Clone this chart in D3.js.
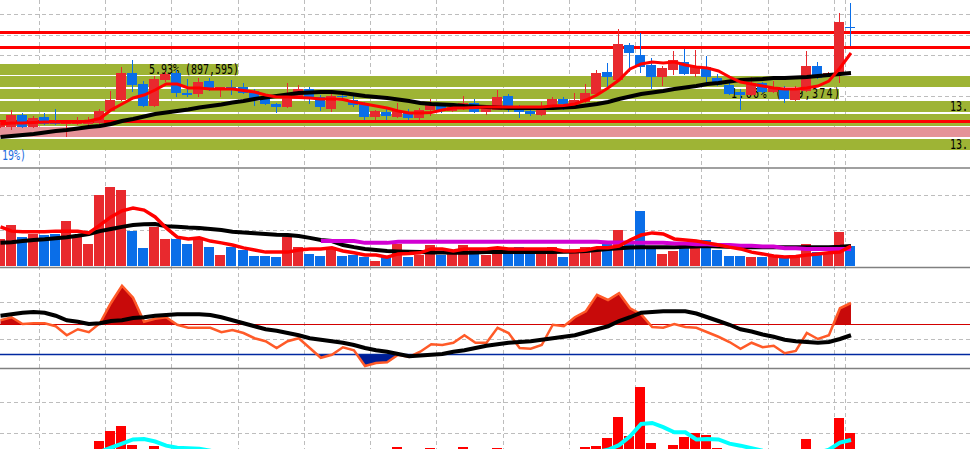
<!DOCTYPE html>
<html>
<head>
<meta charset="utf-8">
<script src="https://cdn.jsdelivr.net/npm/d3@7"></script>
<style>
  body { margin: 0; background: #fff; overflow: hidden; }
  svg { display: block; }
</style>
</head>
<body>
<script>
// ---- data ----
const opens = [13230,13230,13350,13230,13330,13280,13260,13260,13260,13270,
  13390,13500,13770,13660,13440,13700,13770,13570,13560,13690,
  13600,13630,13630,13590,13530,13460,13430,13530,13610,13530,
  13410,13540,13500,13460,13330,13380,13330,13380,13320,13400,
  13460,13390,13420,13470,13380,13400,13540,13440,13390,13350,
  13410,13510,13460,13480,13560,13780,13700,14050,13950,13850,
  13730,13800,13880,13760,13830,13720,13650,13580,13550,13670,
  13580,13620,13500,13590,13840,13760,13770,14230]
const highs = [13280,13400,13370,13340,13370,13410,13280,13330,13330,13410,
  13590,13830,13900,13690,13740,13780,13800,13710,13720,13720,
  13630,13700,13670,13610,13550,13470,13670,13650,13630,13550,
  13560,13590,13560,13480,13400,13420,13470,13410,13420,13510,
  13470,13440,13540,13510,13450,13600,13560,13450,13410,13480,
  13530,13530,13570,13660,13800,13870,14210,14070,14170,13920,
  13840,13990,14010,14000,13940,13760,13700,13610,13730,13680,
  13690,13640,13640,13990,13880,13780,14370,14470]
const lows = [13220,13200,13220,13220,13250,13250,13130,13250,13220,13220,
  13380,13490,13580,13430,13430,13680,13530,13530,13530,13590,
  13530,13550,13560,13440,13450,13370,13420,13520,13460,13390,
  13380,13490,13430,13300,13300,13300,13320,13300,13300,13340,
  13370,13380,13400,13370,13350,13400,13380,13320,13340,13340,
  13400,13400,13450,13470,13550,13630,13680,13780,13770,13610,
  13640,13750,13750,13730,13670,13640,13550,13400,13540,13570,
  13570,13470,13490,13580,13710,13750,13670,14040]
const closes = [13260,13350,13230,13320,13260,13260,13270,13280,13280,13390,
  13500,13770,13650,13440,13710,13760,13570,13550,13680,13610,
  13630,13600,13570,13500,13460,13430,13540,13610,13510,13430,
  13540,13530,13450,13330,13390,13340,13390,13320,13400,13450,
  13390,13430,13470,13380,13420,13530,13430,13380,13360,13410,
  13510,13460,13500,13570,13770,13730,14060,13970,13830,13730,
  13820,13900,13760,13830,13730,13650,13560,13550,13670,13580,
  13630,13510,13610,13840,13720,13770,14280,14225]

const priceMa5 = [13260,13270,13270,13275,13280,13280,13280,13280,13290,13315,
  13400,13460,13520,13550,13600,13660,13660,13620,13620,13610,
  13610,13610,13595,13580,13550,13530,13530,13525,13520,13510,
  13510,13505,13480,13460,13440,13420,13390,13370,13370,13375,
  13400,13420,13420,13425,13430,13430,13430,13430,13430,13430,
  13440,13445,13460,13500,13550,13620,13700,13810,13860,13880,
  13870,13880,13850,13830,13820,13790,13730,13680,13660,13640,
  13620,13610,13610,13620,13640,13690,13820,13970]
const priceMa20 = [13130,13140,13150,13160,13175,13190,13200,13215,13230,13240,
  13260,13290,13310,13335,13360,13375,13390,13405,13425,13440,
  13455,13475,13490,13510,13525,13540,13555,13570,13575,13580,
  13580,13570,13555,13540,13530,13520,13505,13490,13470,13460,
  13455,13450,13440,13435,13430,13425,13420,13420,13420,13420,
  13420,13425,13430,13445,13460,13480,13510,13535,13560,13575,
  13590,13610,13625,13640,13660,13670,13685,13700,13705,13710,
  13720,13720,13725,13730,13740,13750,13760,13770]

// price levels and zones
const levelLines = [14185, 14027, 13287]
const zoneTops = [13740, 13490, 13357, 13233, 13113]
const zoneBottoms = [13630, 13380, 13243, 13133, 13003]
const zoneLabels = ["", "13.", "", "", "13."]
const noteTexts = ["5.93% (897,595)", "1.66% (759,374)"]
const noteTops = [13857, 13613]
const noteBottoms = [13750, 13510]
const lowNote = "19%)"

const volume = [76,115,81,90,87,90,126,81,62,200,
  222,214,98,51,110,76,76,62,76,53,
  31,53,45,28,28,25,81,53,34,28,
  53,28,31,25,14,25,62,25,31,59,
  31,45,59,45,31,53,51,53,45,51,
  53,25,45,53,51,65,101,65,155,53,
  34,42,62,73,73,45,28,28,25,25,
  31,25,31,62,39,37,96,56]
const volMa5 = [110,98,96,96,96,98,98,98,93,115,
  138,155,163,157,138,107,81,76,79,70,
  65,59,51,45,39,39,39,45,48,48,
  51,42,37,31,31,25,34,35,37,48,
  48,42,48,48,48,51,48,48,48,48,
  48,42,42,45,51,51,56,73,87,93,
  90,76,73,70,65,59,53,48,39,34,
  28,25,27,31,34,37,39,56]
const volMa20 = [65,67,70,73,75,78,81,85,90,98,
  104,110,115,117,118,112,110,108,107,104,
  101,96,94,92,90,88,87,84,79,73,
  70,59,53,48,45,42,41,40,39,38,
  38,37,37,38,39,39,39,39,39,39,
  39,40,41,42,45,48,50,52,53,53,
  53,53,54,55,56,55,54,53,53,53,
  53,53,53,53,53,53,54,56]
const volMa60 = [null,null,null,null,null,null,null,null,null,null,
  null,null,null,null,null,null,null,null,null,null,
  null,null,null,null,null,null,null,null,null,70,
  70,70,70,65,65,65,68,68,68,68,
  68,68,68,68,68,68,68,68,68,68,
  68,68,68,68,68,66,66,66,65,65,
  65,63,63,61,61,59,59,57,57,55,
  55,50,50,48,48,48,48,48]

const osc = [75,79,70,71,71,67,55,63,59,71,
  98,121,105,73,77,79,69,65,65,65,
  59,62,58,51,47,38,47,51,38,25,
  29,39,35,14,18,19,29,26,33,43,
  42,45,55,45,45,65,58,38,37,42,
  69,67,79,87,109,102,111,91,83,66,
  65,70,66,65,59,53,46,37,45,39,
  41,31,34,58,50,55,91,98]
const oscSignal = [81,83,85,86,85,81,75,73,70,71,
  74,75,78,79,81,82,83,83,83,82,
  79,75,71,67,63,61,58,55,51,49,
  47,45,42,38,35,33,30,27,28,29,
  30,33,35,38,41,43,45,46,47,49,
  51,53,55,59,63,67,74,79,85,86,
  87,87,87,84,79,74,69,63,60,56,
  53,49,47,46,45,46,50,55]
const oscUpper = 70
const oscLower = 30

const hist = [0,0,0,0,0,0,0,0,0,12.5,
  22,27,8.5,0,7.5,0,0,0,0,0,
  0,0,0,0,0,0,0,0,0,0,
  0,0,0,0,0,0,6.5,0,0,5.5,
  0,0,6.5,0,0,5.5,0,0,0,0,
  0,0,0,6.5,7.5,15.5,36,17.5,65,10.5,
  0,8.5,16.5,20.5,18.5,5.5,0,0,0,0,
  0,0,0,14.5,0,0,35,20.5]
const histSignal = [1,1,1,1,1,1,1,1,1,2,
  6,10,14,14.5,12,8,6,5.5,5,3,
  1,1,1,1,1,1,1,1,1,1,
  1,1,1,1,1,1,1,1,1,1,
  1,1,1,1,1,1,1,1,1,1,
  1,1,1,1,2,4,8.5,17,29,30,
  26,21,21,14,14.5,14,10,8,5.5,3,
  1,1,1,1,1,4,11,13.5]

const gridBars = [4,10,16,22,28,34,40,46,52,58,64,70,76,77]
const priceGrid = [14357, 14152, 13947, 13742, 13537]
const volGrid = [100, 200]
const oscGrid = [50, 100]
const histGrid = [20, 50]

// ---- setup ----
const W = 970, H = 449
const RED = "#e8292e", BLUE = "#0a6ee8", OLIVE = "#9eb435", PINK = "#e59298"
const FONT = "DejaVu Sans Mono"

const svg = d3.select("body").append("svg")
  .attr("width", W)
  .attr("height", H)

const x = d3.scaleLinear().domain([0, 77]).range([0, 850.5])
const yPrice = d3.scaleLinear().domain([12900, 14500]).range([160, 0])
const yVol = d3.scaleLinear().domain([0, 281]).range([266, 166])
const yOsc = d3.scaleLinear().domain([0, 100]).range([376.5, 301.5])
const yHist = d3.scaleLinear().domain([0, 50]).range([453.9, 402.4])

const left = i => Math.floor(x(i) - 5)
const idx = d3.range(opens.length)

const defs = svg.append("defs")
function clip(id, y0, y1) {
  defs.append("clipPath").attr("id", id)
    .append("rect").attr("x", 0).attr("y", y0).attr("width", W).attr("height", y1 - y0)
  return `url(#${id})`
}

// narrow, tall bitmap-like label text
function label(g, tx, ty, str, color, anchor, len) {
  const t = g.append("text")
    .attr("transform", `translate(${tx},${ty}) scale(1,1.35)`)
    .attr("text-anchor", anchor || "start")
    .style("font-family", FONT)
    .style("font-size", "10px")
    .attr("fill", color)
    .text(str)
  if (len) t.attr("textLength", len).attr("lengthAdjust", "spacing")
  return t
}

// vertical dashed grid through all panels
svg.append("g").selectAll("line")
  .data(gridBars)
  .enter()
  .append("line")
  .attr("x1", d => left(d) + 0.5)
  .attr("x2", d => left(d) + 0.5)
  .attr("y1", 0)
  .attr("y2", H)
  .attr("stroke", "#bdbdbd")
  .attr("stroke-dasharray", "4,3")

function hGrid(g, vals, scale) {
  g.append("g").selectAll("line")
    .data(vals)
    .enter()
    .append("line")
    .attr("x1", 0).attr("x2", W)
    .attr("y1", d => Math.round(scale(d)) + 0.5)
    .attr("y2", d => Math.round(scale(d)) + 0.5)
    .attr("stroke", "#bdbdbd")
    .attr("stroke-dasharray", "4,3")
}

const seriesLine = scale => d3.line()
  .defined(d => d != null)
  .x((d, i) => x(i) + 0.5)
  .y(d => scale(d))

// ---- price panel ----
const price = svg.append("g").attr("clip-path", clip("cPrice", 0, 167.5))
hGrid(price, priceGrid, yPrice)

price.selectAll(".zone")
  .data(zoneTops)
  .enter()
  .append("rect")
  .attr("class", "zone")
  .attr("x", 0)
  .attr("width", W)
  .attr("y", d => Math.round(yPrice(d)))
  .attr("height", (d, i) => Math.round(yPrice(zoneBottoms[i])) - Math.round(yPrice(d)))
  .attr("fill", (d, i) => i === 3 ? PINK : OLIVE)

// note boxes run from the left edge to the note text
const noteEnds = [238, 839]
const noteWidths = [90, 109]
price.selectAll(".note")
  .data(noteTexts)
  .enter()
  .append("rect")
  .attr("x", 0)
  .attr("width", (d, i) => noteEnds[i])
  .attr("y", (d, i) => Math.round(yPrice(noteTops[i])))
  .attr("height", (d, i) => Math.round(yPrice(noteBottoms[i])) - Math.round(yPrice(noteTops[i])))
  .attr("fill", OLIVE)

noteTexts.forEach((t, i) => {
  label(price, noteEnds[i] + 1 - noteWidths[i], Math.round(yPrice(noteBottoms[i])) - 1,
    t, "#000", "start", noteWidths[i])
})

zoneLabels.forEach((t, i) => {
  if (t) label(svg, 968, Math.round(yPrice(zoneBottoms[i])) - 1.5, t, "#000", "end")
})

price.selectAll(".level")
  .data(levelLines)
  .enter()
  .append("rect")
  .attr("x", 0)
  .attr("width", W)
  .attr("y", d => Math.round(yPrice(d)) - 1)
  .attr("height", 3)
  .attr("fill", "#ff0000")

// candles
const up = i => closes[i] >= opens[i]
price.append("g").selectAll("rect")
  .data(idx)
  .enter()
  .append("rect")
  .attr("x", i => left(i) + 5)
  .attr("width", 1)
  .attr("y", i => Math.round(yPrice(highs[i])))
  .attr("height", i => Math.round(yPrice(lows[i])) - Math.round(yPrice(highs[i])))
  .attr("fill", i => up(i) ? RED : BLUE)
price.append("g").selectAll("rect")
  .data(idx)
  .enter()
  .append("rect")
  .attr("x", i => left(i))
  .attr("width", 10)
  .attr("y", i => Math.round(yPrice(Math.max(opens[i], closes[i]))))
  .attr("height", i => Math.max(1, Math.round(Math.abs(yPrice(opens[i]) - yPrice(closes[i])))))
  .attr("fill", i => up(i) ? RED : BLUE)

price.append("path")
  .attr("d", seriesLine(yPrice)(priceMa20))
  .attr("fill", "none")
  .attr("stroke", "#000")
  .attr("stroke-width", 4)
price.append("path")
  .attr("d", seriesLine(yPrice)(priceMa5))
  .attr("fill", "none")
  .attr("stroke", "#ff0000")
  .attr("stroke-width", 3)

label(svg, 2, 159.5, lowNote, "#1e6ee0", "start")

// ---- volume panel ----
const vol = svg.append("g").attr("clip-path", clip("cVol", 168.5, 267))
hGrid(vol, volGrid, yVol)
vol.append("g").selectAll("rect")
  .data(idx)
  .enter()
  .append("rect")
  .attr("x", i => left(i))
  .attr("width", 10)
  .attr("y", i => Math.round(yVol(volume[i])))
  .attr("height", i => Math.round(yVol(0)) - Math.round(yVol(volume[i])))
  .attr("fill", i => up(i) ? RED : BLUE)

const volLines = [[volMa20, "#000", 4], [volMa60, "#d200d2", 4], [volMa5, "#ff0000", 3.5]]
volLines.forEach(([s, c, w]) => {
  vol.append("path")
    .attr("d", seriesLine(yVol)(s))
    .attr("fill", "none")
    .attr("stroke", c)
    .attr("stroke-width", w)
})

// ---- oscillator panel ----
const oscG = svg.append("g").attr("clip-path", clip("cOsc", 268, 368))
hGrid(oscG, oscGrid, yOsc)
const oscArea = base => d3.area()
  .x((d, i) => x(i) + 0.5)
  .y0(yOsc(base))
  .y1(d => yOsc(d))
oscG.append("path")
  .attr("clip-path", clip("cOscUp", 268, yOsc(oscUpper)))
  .attr("d", oscArea(oscUpper)(osc))
  .attr("fill", "#c80a0a")
oscG.append("path")
  .attr("clip-path", clip("cOscDown", yOsc(oscLower), 368))
  .attr("d", oscArea(oscLower)(osc))
  .attr("fill", "#001e96")
oscG.append("line")
  .attr("x1", 0).attr("x2", W)
  .attr("y1", Math.round(yOsc(oscUpper)) + 0.5)
  .attr("y2", Math.round(yOsc(oscUpper)) + 0.5)
  .attr("stroke", "#d20000")
oscG.append("line")
  .attr("x1", 0).attr("x2", W)
  .attr("y1", Math.round(yOsc(oscLower)) + 0.5)
  .attr("y2", Math.round(yOsc(oscLower)) + 0.5)
  .attr("stroke", "#0028a0")
  .attr("stroke-width", 1.3)
oscG.append("path")
  .attr("d", seriesLine(yOsc)(osc))
  .attr("fill", "none")
  .attr("stroke", "#ff5a28")
  .attr("stroke-width", 2.5)
oscG.append("path")
  .attr("d", seriesLine(yOsc)(oscSignal))
  .attr("fill", "none")
  .attr("stroke", "#000")
  .attr("stroke-width", 4)

// ---- histogram panel ----
const histG = svg.append("g").attr("clip-path", clip("cHist", 369, H))
hGrid(histG, histGrid, yHist)
histG.append("g").selectAll("rect")
  .data(idx.filter(i => hist[i] > 0))
  .enter()
  .append("rect")
  .attr("x", i => left(i))
  .attr("width", 10)
  .attr("y", i => Math.round(yHist(hist[i])))
  .attr("height", i => Math.round(yHist(0)) - Math.round(yHist(hist[i])))
  .attr("fill", "#ff0000")
histG.append("path")
  .attr("d", seriesLine(yHist)(histSignal))
  .attr("fill", "none")
  .attr("stroke", "#00ffff")
  .attr("stroke-width", 4)

// panel separators
svg.append("g").selectAll("line")
  .data([168, 267.5, 368.5])
  .enter()
  .append("line")
  .attr("x1", 0).attr("x2", W)
  .attr("y1", d => d).attr("y2", d => d)
  .attr("stroke", "#808080")
  .attr("stroke-width", 1.5)
</script>
</body>
</html>
